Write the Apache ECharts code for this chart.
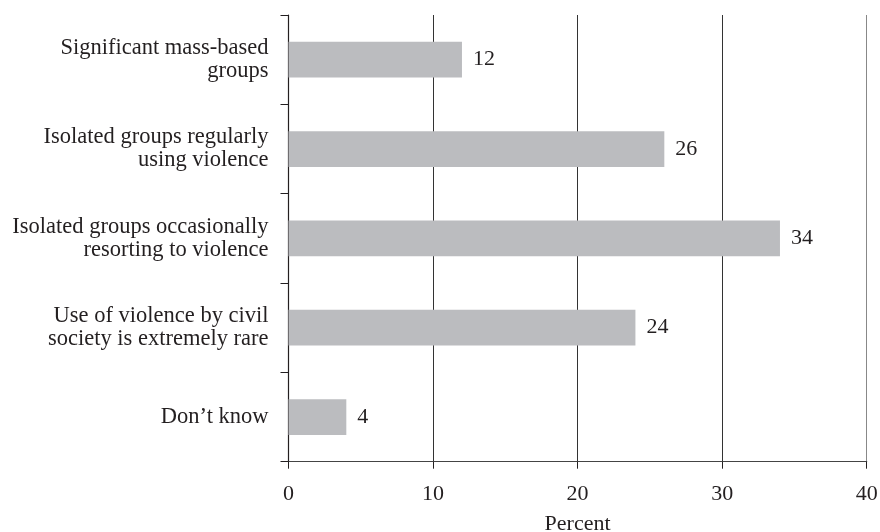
<!DOCTYPE html>
<html>
<head>
<meta charset="utf-8">
<script src="https://cdn.jsdelivr.net/npm/echarts@6/dist/echarts.min.js"></script>
<style>
  html, body { margin: 0; padding: 0; background: #fff; }
  #chart { width: 880px; height: 532px; }
</style>
</head>
<body>
<div id="chart"></div>
<script>
// data
var categories = [
  'Significant mass-based\ngroups',
  'Isolated groups regularly\nusing violence',
  'Isolated groups occasionally\nresorting to violence',
  'Use of violence by civil\nsociety is extremely rare',
  'Don\u2019t know'
];
var values = [12, 26, 34, 24, 4];
var xTicks = [0, 10, 20, 30, 40];

var font = '"Liberation Serif", "DejaVu Serif", serif';
var ink = '#231f20';

var myChart = echarts.init(document.getElementById('chart'));
myChart.setOption({
  animation: false,
  textStyle: { fontFamily: font },
  grid: {
    left: 288.5, right: 13.3, top: 15, bottom: 70.3,
    containLabel: false,
    outerBoundsMode: 'none'
  },
  xAxis: {
    type: 'value',
    min: xTicks[0],
    max: xTicks[xTicks.length - 1],
    interval: 10,
    name: 'Percent',
    nameLocation: 'middle',
    nameGap: 52,
    nameTextStyle: { fontFamily: font, fontSize: 22, color: ink },
    axisLine: { show: true, lineStyle: { color: '#444', width: 1.2 } },
    axisTick: { show: true, length: 7, lineStyle: { color: ink } },
    axisLabel: { fontFamily: font, fontSize: 22, color: ink, margin: 22 },
    splitLine: {
      show: true,
      lineStyle: { color: ['#333', '#333', '#333', '#333', '#888'], width: 1 }
    }
  },
  yAxis: {
    type: 'category',
    inverse: true,
    data: categories,
    axisLine: { show: true, lineStyle: { color: ink, width: 1.2 } },
    axisTick: { show: true, length: 8, lineStyle: { color: ink } },
    axisLabel: {
      fontFamily: font, fontSize: 22.5, color: ink, margin: 20,
      align: 'right', lineHeight: 23
    },
    splitLine: { show: false }
  },
  series: [
    {
      type: 'bar',
      data: values,
      barWidth: '40%',
      itemStyle: { color: '#bbbcbf' },
      label: {
        show: true,
        position: 'right',
        distance: 11,
        fontFamily: font,
        fontSize: 22,
        color: ink
      }
    }
  ]
});
</script>
</body>
</html>
